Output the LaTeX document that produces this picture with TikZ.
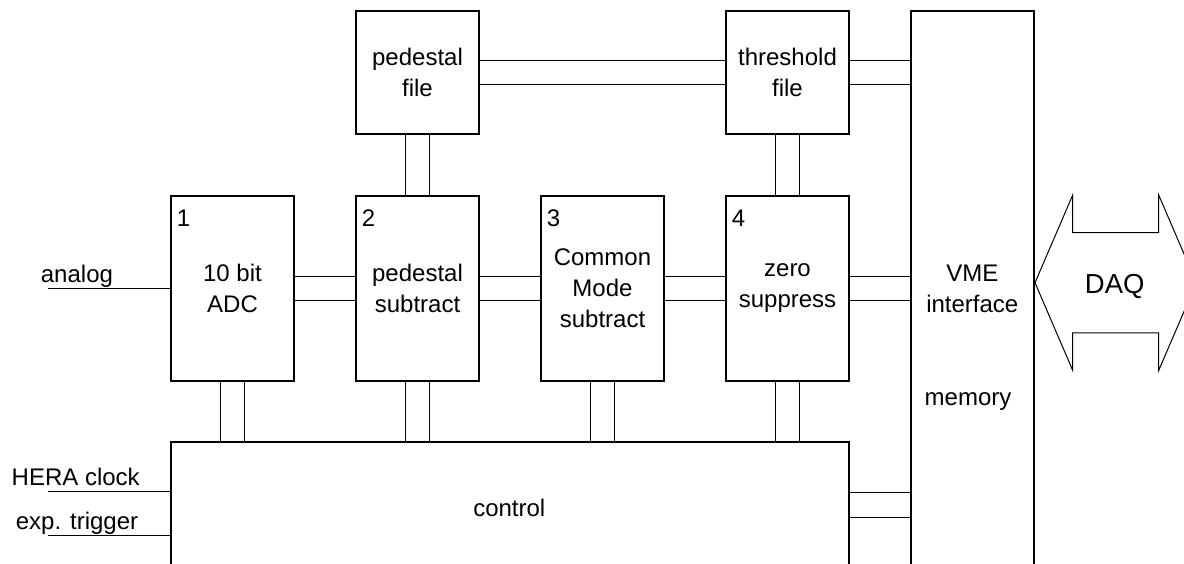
\documentclass[tikz,border=0pt]{standalone}
\usepackage{fontspec}
\setmainfont{Liberation Sans}
\usetikzlibrary{calc}
\newcommand\labfont{\fontsize{24}{31}\selectfont}
\newcommand\bigfont{\fontsize{27.5}{33}\selectfont}

\tikzset{
  blk/.style={draw, line width=2pt, minimum width=123.6pt, minimum height=185.3pt,
              inner sep=0pt, align=center, font=\labfont},
  filebox/.style={blk, minimum height=123pt},
  bus/.style={line width=1pt},
  lab/.style={inner sep=0pt, font=\labfont},
  num/.style={lab, anchor=base west},
}

\begin{document}
\begin{tikzpicture}[x=1pt, y=-1pt]
\useasboundingbox (0,0) rectangle (1184,563);
\clip (0,0) rectangle (1184,563);

% processing stages
\node[blk] (b1) at (232.5,288.35) {10 bit\\ADC};
\node[blk] (b2) at (417.5,288.35) {pedestal\\subtract};
\node[blk] (b3) at (602.5,288.35) {Common\\Mode\\subtract};
\node[blk] (b4) at (787.5,288.35) {zero\\suppress};

\node[num] (n1) at ($(b1.north west)+(7,32)$) {1};
\node[num] (n2) at ($(b2.north west)+(7,32)$) {2};
\node[num] (n3) at ($(b3.north west)+(7,32)$) {3};
\node[num] (n4) at ($(b4.north west)+(7,32)$) {4};

% lookup files
\node[filebox] (pf) at (417.5,72.5) {pedestal\\file};
\node[filebox] (tf) at (787.5,72.5) {threshold\\file};

% control and VME boxes run on below the lower edge
\node[blk, minimum width=678.6pt, minimum height=198pt] (ctrl) at (510,541) {};
\node[blk, minimum width=123.3pt, minimum height=628.7pt] (vme) at (972.35,325.65) {};

\node[lab, anchor=base] (ctrltxt) at (509.3,516.7) {control};
\node[lab, align=center] (vmetxt) at (972.3,289) {VME\\interface};
\node[lab, anchor=base] (memtxt) at (968,405) {memory};

% double-line buses between the stages
\foreach \a/\b in {b1/b2, b2/b3, b3/b4, b4/vme, pf/tf, tf/vme} {
  \draw[bus] ([yshift=12pt]\a.east) -- ([yshift=12pt]\a.east -| \b.west);
  \draw[bus] ([yshift=-12pt]\a.east) -- ([yshift=-12pt]\a.east -| \b.west);
}
\foreach \a/\b in {pf/b2, tf/b4} {
  \draw[bus] ([xshift=-12pt]\a.south) -- ([xshift=-12pt]\b.north);
  \draw[bus] ([xshift=12pt]\a.south) -- ([xshift=12pt]\b.north);
}
\foreach \a in {b1, b2, b3, b4} {
  \draw[bus] ([xshift=-12pt]\a.south) -- ([xshift=-12pt]\a.south |- ctrl.north);
  \draw[bus] ([xshift=12pt]\a.south) -- ([xshift=12pt]\a.south |- ctrl.north);
}
\draw[bus] ($(ctrl.north east)+(0,51.3)$) -- ($(vme.west |- ctrl.north east)+(0,51.3)$);
\draw[bus] ($(ctrl.north east)+(0,76)$) -- ($(vme.west |- ctrl.north east)+(0,76)$);

% external inputs
\coordinate (ain) at (47.7,288.35);
\draw[bus] (ain) -- (ain -| b1.west);
\node[lab, anchor=base west] (analog) at (40.7,282.7) {analog};

\coordinate (hin) at (47.7,491.7);
\draw[bus] (hin) -- (hin -| ctrl.west);
\node[lab, anchor=base west] (hera) at (11.5,485.7) {HERA clock};

\coordinate (tin) at (47.7,535);
\draw[bus] (tin) -- (tin -| ctrl.west);
\node[lab, anchor=base west] (trig) at (15.7,529.3) {exp. trigger};

% DAQ double arrow
\coordinate (daqc) at (1114.7,282.7);
\draw[line width=1pt] (vme.east |- daqc) -- ++(37.7,-87.7) -- ++(0,37.5) -- ++(86,0)
  -- ++(0,-37.5) -- ++(37.7,87.7) -- ++(-37.7,87.7) -- ++(0,-37.5) -- ++(-86,0)
  -- ++(0,37.5) -- cycle;
\node[lab, anchor=base, font=\bigfont] (daq) at (1114.7,293.3) {DAQ};
\end{tikzpicture}
\end{document}
